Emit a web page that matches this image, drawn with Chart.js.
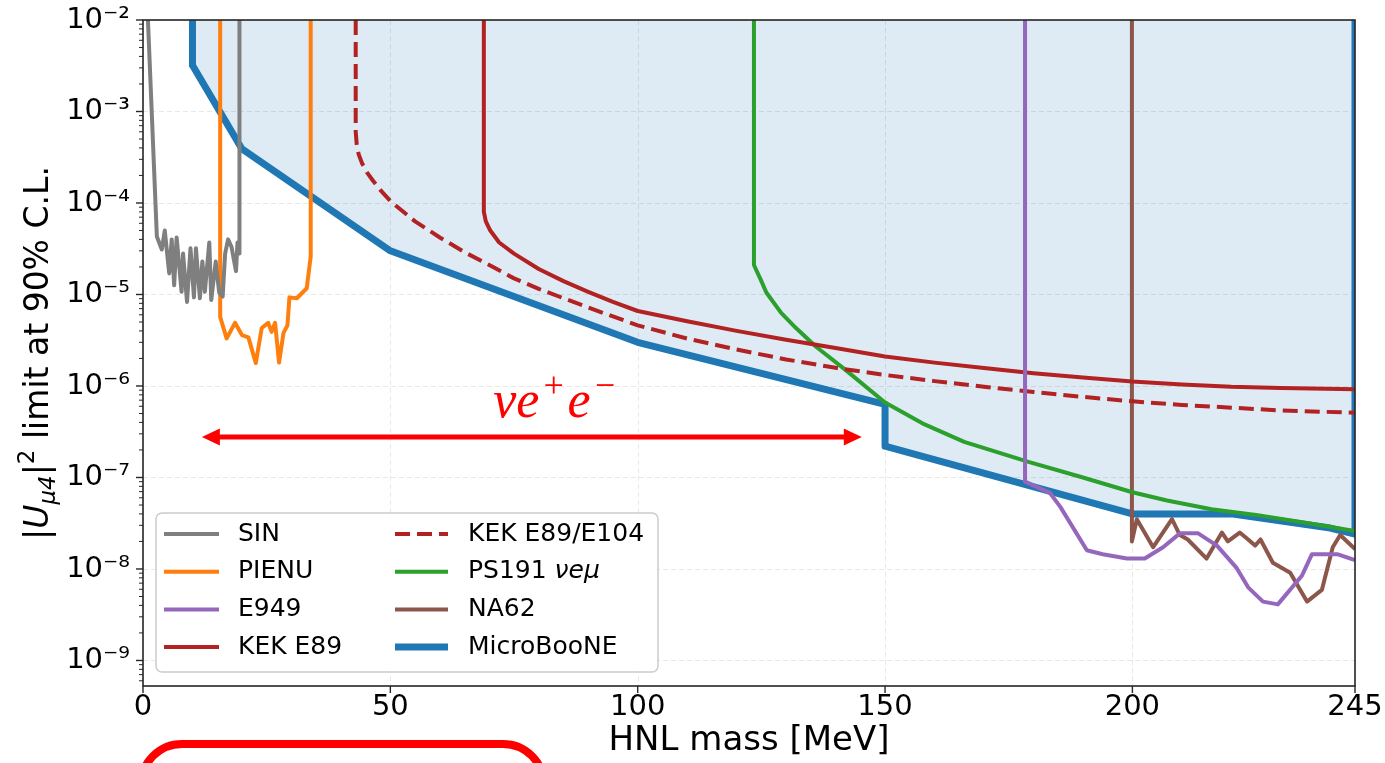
<!DOCTYPE html>
<html>
<head>
<meta charset="utf-8">
<script src="https://cdn.jsdelivr.net/npm/chart.js"></script>
<style>
html,body{margin:0;padding:0;background:#fff;}
#wrap{position:relative;width:1385px;height:763px;overflow:hidden;background:#fff;}
#c{position:absolute;left:0;top:0;}
#box{position:absolute;left:137px;top:740px;width:411px;height:90px;border:8px solid #ff0000;border-radius:48px;box-sizing:border-box;}
</style>
</head>
<body>
<div id="wrap"><canvas id="c" width="1385" height="763"></canvas><div id="box"></div></div>
<script>
// ---------------- data (HNL mass [MeV], |U_mu4|^2) ----------------
const sinMass = [1.0, 2.8, 3.8, 4.4, 5.3, 5.8, 6.3, 6.8, 7.8, 8.1, 8.9, 9.6, 10.3, 10.7, 11.5, 12.0, 12.5, 13.4, 13.8, 14.7, 15.4, 16.1, 16.6, 17.2, 17.9, 18.8, 19.1, 19.5, 19.5];
const sinU2   = [1e-2, 4.3e-5, 3.1e-5, 5e-5, 1.7e-5, 4e-5, 1.26e-5, 4.2e-5, 1.07e-5, 2.8e-5, 8.3e-6, 3.2e-5, 9.3e-6, 3.2e-5, 9.1e-6, 2.3e-5, 1.07e-5, 3.7e-5, 8.7e-6, 2.3e-5, 1.05e-5, 9.5e-6, 2.8e-5, 4e-5, 3.3e-5, 1.8e-5, 3.7e-5, 2.8e-5, 1e-2];

const pienuMass = [15.6, 15.6, 16.9, 18.6, 20.0, 21.3, 22.8, 24.0, 25.3, 26.0, 26.7, 27.5, 28.4, 29.2, 29.6, 31.1, 33.1, 33.9, 33.9];
const pienuU2   = [1e-2, 5.7e-6, 3.3e-6, 4.9e-6, 3.6e-6, 3.4e-6, 1.78e-6, 4.3e-6, 4.9e-6, 3.9e-6, 4.9e-6, 1.8e-6, 3.8e-6, 4.6e-6, 9.3e-6, 9.1e-6, 1.17e-5, 2.6e-5, 1e-2];

const e949Mass = [178.3, 178.3, 183.3, 185.4, 190.8, 194.0, 198.9, 202.5, 206.2, 209.6, 213.3, 217.1, 221.1, 223.4, 226.4, 229.4, 234.3, 236.3, 241.4, 245];
const e949U2   = [1e-2, 9e-8, 6.8e-8, 4.8e-8, 1.6e-8, 1.45e-8, 1.3e-8, 1.3e-8, 1.73e-8, 2.45e-8, 2.45e-8, 1.8e-8, 1.02e-8, 6.3e-9, 4.4e-9, 4.1e-9, 8.5e-9, 1.45e-8, 1.45e-8, 1.25e-8];

const kekMass = [68.9, 68.9, 69.3, 70.2, 72, 75, 80, 85, 90, 95, 100, 110, 120, 130, 140, 150, 160, 170, 180, 190, 200, 210, 220, 230, 245];
const kekU2   = [1e-2, 8e-5, 6.3e-5, 5e-5, 3.7e-5, 2.8e-5, 1.9e-5, 1.4e-5, 1.07e-5, 8.3e-6, 6.6e-6, 5.1e-6, 4e-6, 3.2e-6, 2.6e-6, 2.1e-6, 1.8e-6, 1.57e-6, 1.38e-6, 1.24e-6, 1.12e-6, 1.04e-6, 9.8e-7, 9.5e-7, 9.2e-7];

const kek104Mass = [43, 43, 43.2, 43.6, 44.3, 45.3, 46.5, 48, 50, 55, 60, 65, 70, 75, 80, 90, 100, 110, 120, 130, 140, 150, 160, 170, 180, 190, 200, 210, 220, 230, 245];
const kek104U2   = [1e-2, 6e-4, 4.4e-4, 3.4e-4, 2.7e-4, 2.15e-4, 1.75e-4, 1.38e-4, 1.05e-4, 6.3e-5, 4.2e-5, 2.9e-5, 2.1e-5, 1.5e-5, 1.15e-5, 7.2e-6, 4.6e-6, 3.3e-6, 2.5e-6, 1.95e-6, 1.58e-6, 1.32e-6, 1.13e-6, 9.8e-7, 8.6e-7, 7.6e-7, 6.8e-7, 6.2e-7, 5.8e-7, 5.4e-7, 5.1e-7];

const ps191Mass = [123.5, 123.5, 125, 126, 129, 132, 136, 142, 150, 158, 166, 179, 190, 200, 207, 216, 225, 235, 245];
const ps191U2   = [1e-2, 2.1e-5, 1.4e-5, 1.05e-5, 6.3e-6, 4.3e-6, 2.7e-6, 1.5e-6, 6.6e-7, 3.8e-7, 2.45e-7, 1.48e-7, 1e-7, 6.9e-8, 5.6e-8, 4.5e-8, 3.9e-8, 3.2e-8, 2.6e-8];

const na62Mass = [199.9, 199.9, 200.9, 204.2, 208.0, 209.6, 211.2, 215.0, 218.1, 219.3, 221.7, 223.4, 224.8, 225.9, 228.4, 231.9, 235.3, 238.3, 240.5, 242.0, 245];
const na62U2   = [1e-2, 2e-8, 3.5e-8, 1.73e-8, 3.5e-8, 2.35e-8, 2.1e-8, 1.3e-8, 2.5e-8, 2e-8, 2.5e-8, 2.1e-8, 1.8e-8, 2.1e-8, 1.17e-8, 9.1e-9, 4.4e-9, 5.9e-9, 1.73e-8, 2.35e-8, 1.65e-8];

const uboneMass = [10, 10, 20, 50, 100, 150, 150, 200, 220, 240, 245, 245];
const uboneU2   = [1e-2, 3.2e-3, 3.9e-4, 3e-5, 3e-6, 6.3e-7, 2.2e-7, 4e-8, 4e-8, 2.8e-8, 2.4e-8, 1e-2];

// axis / tick definitions
const xTickValues = [0, 50, 100, 150, 200, 245];
const yTickExponents = [-9, -8, -7, -6, -5, -4, -3, -2];
const xAxisMin = 0, xAxisMax = 245;
const yAxisMin = 5.26e-10, yAxisMax = 1e-2;

// annotation (nu e+ e- arrow)
const arrowMassRange = [11.9, 145.3];
const arrowU2 = 2.77e-7;
const arrowLabelMass = 83.5;
const arrowLabelU2 = 4.6e-7;

// legend layout (column-major order)
const legendOrder = ['SIN', 'PIENU', 'E949', 'KEK E89', 'KEK E89/E104', 'PS191 νeμ', 'NA62', 'MicroBooNE'];

// ---------------------------------------------------------------
function pts(xs, ys) { return xs.map((x, i) => ({x: x, y: ys[i]})); }
function line(label, xs, ys, color, order, extra) {
  return Object.assign({
    label: label, data: pts(xs, ys), borderColor: color, backgroundColor: color,
    borderWidth: 4, pointRadius: 0, pointHoverRadius: 0, fill: false, tension: 0,
    borderJoinStyle: 'round', order: order
  }, extra || {});
}

const datasets = [
  line('SIN', sinMass, sinU2, '#7f7f7f', 1),
  line('PIENU', pienuMass, pienuU2, '#ff7f0e', 2),
  line('E949', e949Mass, e949U2, '#9467bd', 3),
  line('KEK E89', kekMass, kekU2, '#b22222', 4),
  line('KEK E89/E104', kek104Mass, kek104U2, '#b22222', 5, {borderDash: [15, 7]}),
  line('PS191 νeμ', ps191Mass, ps191U2, '#2ca02c', 6),
  line('NA62', na62Mass, na62U2, '#8c564b', 7),
  line('MicroBooNE', uboneMass, uboneU2, '#1f77b4', 10, {borderWidth: 7, fill: 'end', backgroundColor: 'rgba(31,119,180,0.15)'})
];

const SUP = {'-': '⁻', '0': '⁰', '1': '¹', '2': '²', '3': '³', '4': '⁴', '5': '⁵', '6': '⁶', '7': '⁷', '8': '⁸', '9': '⁹'};
function powLabel(v) {
  const e = Math.round(Math.log10(v));
  return '10' + String(e).split('').map(c => SUP[c]).join('');
}

function drawPieces(ctx, pieces, cx, baseY) {
  let total = 0;
  pieces.forEach(p => { ctx.font = p.f; p.w = ctx.measureText(p.t).width + (p.gap || 0); total += p.w; });
  let x = cx - total / 2;
  ctx.textBaseline = 'alphabetic';
  ctx.textAlign = 'left';
  pieces.forEach(p => { ctx.font = p.f; ctx.fillText(p.t, x + (p.gap || 0) / 2, baseY + (p.dy || 0)); x += p.w; });
}

const FONT = '"DejaVu Sans"';

const deco = {
  id: 'deco',
  beforeDatasetsDraw(chart) {
    const {ctx, chartArea: a, scales: {x, y}} = chart;
    ctx.save();
    ctx.strokeStyle = 'rgba(0,0,0,0.09)';
    ctx.lineWidth = 1;
    ctx.setLineDash([5, 3]);
    xTickValues.forEach(v => {
      const px = Math.round(x.getPixelForValue(v)) + 0.5;
      ctx.beginPath(); ctx.moveTo(px, a.top); ctx.lineTo(px, a.bottom); ctx.stroke();
    });
    yTickExponents.forEach(e => {
      const py = Math.round(y.getPixelForValue(Math.pow(10, e))) + 0.5;
      ctx.beginPath(); ctx.moveTo(a.left, py); ctx.lineTo(a.right, py); ctx.stroke();
    });
    ctx.restore();
  },
  afterDraw(chart) {
    const {ctx, chartArea: a, scales: {x, y}} = chart;
    ctx.save();
    // frame
    ctx.strokeStyle = '#262626';
    ctx.lineWidth = 1.6;
    ctx.strokeRect(a.left, a.top, a.right - a.left, a.bottom - a.top);
    // x ticks
    ctx.lineWidth = 1.4;
    xTickValues.forEach(v => {
      const px = x.getPixelForValue(v);
      ctx.beginPath(); ctx.moveTo(px, a.bottom); ctx.lineTo(px, a.bottom + 7); ctx.stroke();
    });
    // y major ticks
    yTickExponents.forEach(e => {
      const py = y.getPixelForValue(Math.pow(10, e));
      ctx.beginPath(); ctx.moveTo(a.left - 7, py); ctx.lineTo(a.left, py); ctx.stroke();
    });
    // y minor ticks
    ctx.lineWidth = 1;
    for (let e = -10; e <= -3; e++) {
      for (let k = 2; k <= 9; k++) {
        const v = k * Math.pow(10, e);
        if (v < yAxisMin || v > yAxisMax) continue;
        const py = y.getPixelForValue(v);
        ctx.beginPath(); ctx.moveTo(a.left - 4, py); ctx.lineTo(a.left, py); ctx.stroke();
      }
    }

    // arrow annotation
    const ax0 = x.getPixelForValue(arrowMassRange[0]);
    const ax1 = x.getPixelForValue(arrowMassRange[1]);
    const ay = y.getPixelForValue(arrowU2);
    const hl = 18, hh = 8.5;
    ctx.strokeStyle = '#ff0000'; ctx.fillStyle = '#ff0000';
    ctx.lineWidth = 5;
    ctx.beginPath(); ctx.moveTo(ax0 + hl - 2, ay); ctx.lineTo(ax1 - hl + 2, ay); ctx.stroke();
    ctx.beginPath(); ctx.moveTo(ax0, ay); ctx.lineTo(ax0 + hl, ay - hh); ctx.lineTo(ax0 + hl, ay + hh); ctx.closePath(); ctx.fill();
    ctx.beginPath(); ctx.moveTo(ax1, ay); ctx.lineTo(ax1 - hl, ay - hh); ctx.lineTo(ax1 - hl, ay + hh); ctx.closePath(); ctx.fill();
    const lx = x.getPixelForValue(arrowLabelMass);
    const ly = y.getPixelForValue(arrowLabelU2);
    const big = 'italic 52px "Liberation Serif"', small = 'italic 36px "Liberation Serif"';
    drawPieces(ctx, [{t: 'νe', f: big}, {t: '+', f: small, dy: -20, gap: 4}, {t: 'e', f: big}, {t: '−', f: small, dy: -20, gap: 4}], lx, ly);

    // legend
    const bx = a.left + 13, bw = 502, bh = 159;
    const by = a.bottom - 14 - bh;
    ctx.fillStyle = 'rgba(255,255,255,0.85)';
    ctx.strokeStyle = '#cccccc';
    ctx.lineWidth = 1.5;
    ctx.beginPath();
    ctx.roundRect(bx, by, bw, bh, 6);
    ctx.fill(); ctx.stroke();
    const rowY0 = by + 21, rowStep = 37.7;
    legendOrder.forEach((lab, i) => {
      const ds = chart.data.datasets.find(d => d.label === lab);
      const col = Math.floor(i / 4), row = i % 4;
      const lx0 = col === 0 ? bx + 8 : bx + 239;
      const lx1 = col === 0 ? bx + 63 : bx + 292;
      const tx = col === 0 ? bx + 82 : bx + 312;
      const ry = rowY0 + row * rowStep;
      ctx.save();
      ctx.strokeStyle = ds.borderColor;
      ctx.lineWidth = ds.borderWidth > 5 ? 7 : 4;
      ctx.setLineDash(ds.borderDash ? [15, 7] : []);
      ctx.beginPath(); ctx.moveTo(lx0, ry); ctx.lineTo(lx1, ry); ctx.stroke();
      ctx.restore();
      ctx.fillStyle = '#000';
      ctx.textBaseline = 'middle';
      ctx.textAlign = 'left';
      if (lab.indexOf('νeμ') >= 0) {
        const base = lab.replace('νeμ', '');
        ctx.font = '25px ' + FONT;
        ctx.fillText(base, tx, ry);
        const w = ctx.measureText(base).width;
        ctx.font = 'italic 25px ' + FONT;
        ctx.fillText('νeμ', tx + w, ry);
      } else {
        ctx.font = '25px ' + FONT;
        ctx.fillText(lab, tx, ry);
      }
    });

    // y-axis title with sub/superscripts
    ctx.fillStyle = '#000';
    ctx.save();
    ctx.translate(48, (a.top + a.bottom) / 2);
    ctx.rotate(-Math.PI / 2);
    const n = '33px ' + FONT, it = 'italic 33px ' + FONT, sm = '23px ' + FONT, smi = 'italic 23px ' + FONT;
    drawPieces(ctx, [{t: '|', f: n}, {t: 'U', f: it}, {t: 'μ4', f: smi, dy: 7}, {t: '|', f: n}, {t: '2', f: sm, dy: -14}, {t: ' limit at 90% C.L.', f: n}], 0, 0);
    ctx.restore();
    ctx.restore();
  }
};

new Chart(document.getElementById('c'), {
  type: 'line',
  data: {datasets: datasets},
  options: {
    responsive: false,
    animation: false,
    devicePixelRatio: 1,
    layout: {padding: {left: 0, top: 20, right: 30, bottom: 0}},
    plugins: {
      legend: {display: false},
      tooltip: {enabled: false},
      filler: {drawTime: 'beforeDatasetsDraw'}
    },
    scales: {
      x: {
        type: 'linear', min: xAxisMin, max: xAxisMax, bounds: 'data',
        grid: {display: false, drawTicks: false},
        border: {display: false},
        ticks: {autoSkip: false, maxRotation: 0, minRotation: 0, padding: 4, color: '#000', font: {family: 'DejaVu Sans', size: 29}},
        title: {display: true, text: 'HNL mass [MeV]', color: '#000', font: {family: 'DejaVu Sans', size: 34}, padding: {top: 0, bottom: 1}},
        afterBuildTicks: s => { s.ticks = xTickValues.map(v => ({value: v})); },
        afterFit: s => { s.height = 77; s.paddingLeft = 0; s.paddingRight = 0; }
      },
      y: {
        type: 'logarithmic', min: yAxisMin, max: yAxisMax, bounds: 'data',
        grid: {display: false, drawTicks: false},
        border: {display: false},
        ticks: {autoSkip: false, padding: 13, color: '#000', font: {family: 'DejaVu Sans', size: 29}, callback: v => powLabel(v)},
        afterBuildTicks: s => { s.ticks = yTickExponents.map(e => ({value: Math.pow(10, e)})); },
        afterFit: s => { s.width = 143; s.paddingTop = 0; s.paddingBottom = 0; }
      }
    }
  },
  plugins: [deco]
});
</script>
</body>
</html>
